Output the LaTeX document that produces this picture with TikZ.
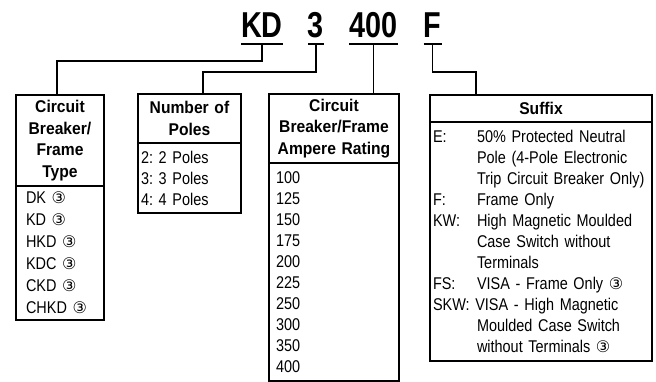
\documentclass[tikz,border=0pt]{standalone}
\usepackage{fontspec}
\setmainfont{Liberation Sans}[FakeStretch=0.85]
\newfontfamily\headfont{Liberation Sans}[FakeStretch=0.92]
\newfontfamily\titlefont{Liberation Sans}[FakeStretch=0.8]
\newfontfamily\circfont{DejaVu Sans}
\usetikzlibrary{positioning}
\frenchspacing
\newcommand{\threemark}{{\circfont\fontsize{16}{16}\selectfont ③}}
\newcommand{\tagcol}[1]{\makebox[44pt][l]{#1}}

\begin{document}
\begin{tikzpicture}[x=1pt,y=-1pt,
    codeletter/.style={inner sep=0pt, anchor=base, font=\titlefont\bfseries\fontsize{36}{36}\selectfont},
    uline/.style={line width=2.8pt},
    link/.style={line width=1.5pt},
    headbox/.style={draw, line width=1.2pt, outer sep=0pt, anchor=north west, inner xsep=2pt, inner ysep=0pt,
        align=center, font=\headfont\bfseries\fontsize{17}{21.5}\selectfont},
    itembox/.style={draw, line width=1.2pt, outer sep=0pt, below=0pt of #1, inner ysep=0pt,
        align=left, font=\fontsize{17}{21}\selectfont}]
\useasboundingbox (0,0) rectangle (656,382);

\node[codeletter] (kd)    at (262,38)   {KD};
\node[codeletter] (three) at (316,38)   {3};
\node[codeletter] (amps)  at (373.5,38) {400};
\node[codeletter] (sfx)   at (432.5,38) {F};
\foreach \n in {kd,three,amps,sfx}
    \draw[uline] ([yshift=-6pt]\n.base west) -- ([yshift=-6pt]\n.base east);

\node[headbox, text width=84pt, minimum height=91pt]  (frametype) at (16,95)  {Circuit\\Breaker/\\Frame\\Type};
\node[headbox, text width=99pt, minimum height=49pt]  (poles)     at (138,94) {Number of\\Poles};
\node[headbox, text width=126pt, minimum height=69pt] (rating)    at (269,94) {Circuit\\Breaker/Frame\\Ampere Rating};
\node[headbox, text width=218pt, minimum height=27pt] (suffix)    at (430,95) {Suffix};

\node[itembox=frametype, inner xsep=10pt, text width=68pt, minimum height=134pt, font=\fontsize{17}{22}\selectfont] (frametypelist)
    {DK \threemark\\KD \threemark\\HKD \threemark\\KDC \threemark\\CKD \threemark\\CHKD \threemark};
\node[itembox=poles, inner xsep=3pt, text width=97pt, minimum height=70pt] (poleslist)
    {2: 2 Poles\\3: 3 Poles\\4: 4 Poles};
\node[itembox=rating, inner xsep=7pt, text width=116pt, minimum height=218pt] (ratinglist)
    {100\\125\\150\\175\\200\\225\\250\\300\\350\\400};
\node[itembox=suffix, inner xsep=3pt, text width=216pt, minimum height=239pt] (suffixlist)
    {\tagcol{E:}50\% Protected Neutral\\
     \tagcol{}Pole (4-Pole Electronic\\
     \tagcol{}Trip Circuit Breaker Only)\\
     \tagcol{F:}Frame Only\\
     \tagcol{KW:}High Magnetic Moulded\\
     \tagcol{}Case Switch without\\
     \tagcol{}Terminals\\
     \tagcol{FS:}VISA - Frame Only \threemark\\
     SKW: VISA - High Magnetic\\
     \tagcol{}Moulded Case Switch\\
     \tagcol{}without Terminals \threemark};

\draw[link] ([yshift=-6pt]kd.base) -- ++(0,17) -| ([xshift=-3pt]frametype.north);
\draw[link] ([yshift=-6pt]three.base) -- ++(0,28) -| ([xshift=13.5pt]poles.north);
\draw[link] ([yshift=-6pt]amps.base) -- (amps.base |- rating.north);
\draw[link] ([yshift=-6pt]sfx.base) -- ++(0,28) -| ([xshift=-65pt]suffix.north);
\end{tikzpicture}
\end{document}
